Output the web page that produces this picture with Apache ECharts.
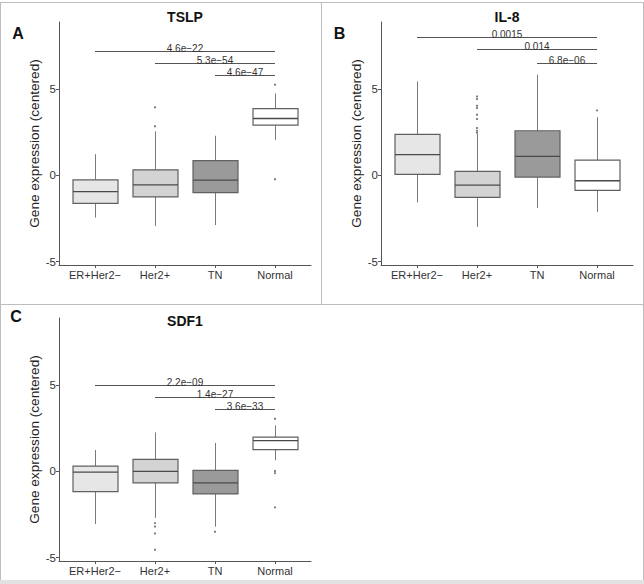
<!DOCTYPE html>
<html><head><meta charset="utf-8">
<script src="https://cdn.jsdelivr.net/npm/echarts@6/dist/echarts.min.js"></script>
<style>html,body{margin:0;padding:0;background:#fff}#c{width:644px;height:584px}</style>
</head><body><div id="c"></div>
<script>
// ---------- data ----------
const categories = ['ER+Her2\u2212', 'Her2+', 'TN', 'Normal'];
const yTicks = [-5, 0, 5];

// [min(whisker), q1, median, q3, max(whisker)] per category
const tslpStats = [
  [-2.45, -1.62, -0.94, -0.26, 1.23],
  [-2.94, -1.25, -0.55, 0.32, 2.55],
  [-2.88, -1.00, -0.28, 0.86, 2.30],
  [2.06, 2.92, 3.30, 3.87, 4.75]
];
const tslpOutliers = [[2, 3.95], [2, 2.85], [4, 5.26], [4, -0.22]];
const tslpPvalues = ['4.6e\u221222', '5.3e\u221254', '4.6e\u221247'];
const tslpBrackets = [[1, 4, 7.24], [2, 4, 6.54], [3, 4, 5.80]];

const il8Stats = [
  [-1.57, 0.06, 1.20, 2.38, 5.45],
  [-2.99, -1.28, -0.56, 0.23, 2.40],
  [-1.89, -0.10, 1.10, 2.59, 5.84],
  [-2.12, -0.87, -0.31, 0.89, 3.38]
];
const il8Outliers = [[2, 4.58], [2, 4.43], [2, 4.04], [2, 3.91], [2, 3.52], [2, 3.27], [2, 2.75], [2, 2.59], [2, 2.47], [4, 3.77]];
const il8Pvalues = ['0.0015', '0.014', '6.8e\u221206'];
const il8Brackets = [[1, 4, 8.02], [2, 4, 7.33], [3, 4, 6.53]];

const sdf1Stats = [
  [-3.05, -1.18, -0.04, 0.31, 1.24],
  [-2.70, -0.67, 0.00, 0.70, 2.26],
  [-3.21, -1.31, -0.67, 0.06, 1.65],
  [0.64, 1.26, 1.78, 1.99, 2.67]
];
const sdf1Outliers = [[2, -3.0], [2, -3.2], [2, -3.6], [2, -4.55], [3, -3.5], [4, 3.05], [4, 0.02], [4, -0.1], [4, -2.09]];
const sdf1Pvalues = ['2.2e\u221209', '1.4e\u221227', '3.6e\u221233'];
const sdf1Brackets = [[1, 4, 5.0], [2, 4, 4.3], [3, 4, 3.6]];

const panels = [
  { title: 'TSLP', letter: 'A', stats: tslpStats, outliers: tslpOutliers, brackets: tslpBrackets, pvalues: tslpPvalues },
  { title: 'IL-8', letter: 'B', stats: il8Stats, outliers: il8Outliers, brackets: il8Brackets, pvalues: il8Pvalues },
  { title: 'SDF1', letter: 'C', stats: sdf1Stats, outliers: sdf1Outliers, brackets: sdf1Brackets, pvalues: sdf1Pvalues }
];

// ---------- styling / layout ----------
const FONT = '"Liberation Sans", Arial, sans-serif';
const fills = ['#e6e6e6', '#d3d3d3', '#9a9a9a', '#ffffff'];
const grids = [
  { left: 59, top: 22, width: 252, height: 243 },
  { left: 381, top: 22, width: 252, height: 243 },
  { left: 59, top: 318, width: 252, height: 243 }
];
const titlePos = [[185, 17], [507, 17], [185, 321]];
const letterPos = [[18, 33], [339.5, 33], [16, 316]];

const chart = echarts.init(document.getElementById('c'), null, { renderer: 'svg' });

const xAxes = [], yAxes = [], series = [];
panels.forEach((p, i) => {
  xAxes.push({
    type: 'value', gridIndex: i, min: 0.4, max: 4.6,
    axisLine: { show: true, onZero: false, lineStyle: { color: '#555', width: 1 } },
    axisTick: { show: true, length: 3, customValues: [1, 2, 3, 4], lineStyle: { color: '#555' } },
    axisLabel: { customValues: [1, 2, 3, 4], formatter: v => categories[Math.round(v) - 1],
      fontSize: 11, color: '#333', margin: 4, fontFamily: FONT },
    splitLine: { show: false }
  });
  yAxes.push({
    type: 'value', gridIndex: i, min: -5.2, max: 8.9,
    name: 'Gene expression (centered)', nameLocation: 'middle', nameGap: 16, nameRotate: 90,
    nameTextStyle: { fontSize: 13.6, color: '#222', fontFamily: FONT },
    axisLine: { show: true, onZero: false, lineStyle: { color: '#555', width: 1 } },
    axisTick: { show: true, length: 3, customValues: yTicks, lineStyle: { color: '#555' } },
    axisLabel: { customValues: yTicks, fontSize: 11.5, color: '#333', margin: 3, fontFamily: FONT },
    splitLine: { show: false }
  });
  const boxData = p.stats.map((s, k) => [k + 1].concat(s));
  series.push({
    type: 'custom', xAxisIndex: i, yAxisIndex: i,
    data: boxData,
    encode: { x: 0, y: [1, 2, 3, 4, 5] },
    renderItem: (params, api) => {
      const x = api.value(0);
      const lo = api.coord([x, api.value(1)]);
      const q1 = api.coord([x, api.value(2)]);
      const md = api.coord([x, api.value(3)]);
      const q3 = api.coord([x, api.value(4)]);
      const hi = api.coord([x, api.value(5)]);
      const w = api.size([0.75, 0])[0];
      const cx = Math.round(lo[0]) + 0.5;
      const wl = { stroke: '#7a7a7a', lineWidth: 1 };
      return {
        type: 'group', children: [
          { type: 'line', shape: { x1: cx, y1: hi[1], x2: cx, y2: q3[1] }, style: wl },
          { type: 'line', shape: { x1: cx, y1: q1[1], x2: cx, y2: lo[1] }, style: wl },
          { type: 'rect', shape: { x: cx - w / 2, y: q3[1], width: w, height: q1[1] - q3[1] },
            style: { fill: fills[params.dataIndex], stroke: '#606060', lineWidth: 1.2 } },
          { type: 'line', shape: { x1: cx - w / 2, y1: md[1], x2: cx + w / 2, y2: md[1] },
            style: { stroke: '#4a4a4a', lineWidth: 1.3 } }
        ]
      };
    },
    z: 2
  });
  series.push({
    type: 'scatter', xAxisIndex: i, yAxisIndex: i, data: p.outliers,
    symbol: 'circle', symbolSize: 2.2, itemStyle: { color: '#555' }, silent: true, z: 3
  });
  series.push({
    type: 'custom', xAxisIndex: i, yAxisIndex: i,
    data: p.brackets,
    encode: { x: [0, 1], y: 2 },
    renderItem: (params, api) => {
      const a = api.coord([api.value(0), api.value(2)]);
      const b = api.coord([api.value(1), api.value(2)]);
      const y = Math.round(a[1]) + 0.5;
      return {
        type: 'group', children: [
          { type: 'line', shape: { x1: a[0], y1: y, x2: b[0], y2: y }, style: { stroke: '#555', lineWidth: 1 } },
          { type: 'text', x: (a[0] + b[0]) / 2, y: y + 1.5,
            style: { text: p.pvalues[params.dataIndex], align: 'center', verticalAlign: 'bottom',
              font: '10px ' + FONT, fill: '#333' } }
        ]
      };
    },
    z: 4
  });
});

const graphics = [];
// panel frame lines
const frameColor = '#bdbdbd';
[[0, 2.5, 644, 2.5], [0.5, 2, 0.5, 584], [643.5, 2, 643.5, 584], [321.5, 2, 321.5, 304], [0, 304.5, 644, 304.5]].forEach(l => {
  graphics.push({ type: 'line', shape: { x1: l[0], y1: l[1], x2: l[2], y2: l[3] }, style: { stroke: frameColor, lineWidth: 1 }, silent: true });
});
graphics.push({ type: 'rect', shape: { x: 0, y: 580, width: 644, height: 4 }, style: { fill: '#e2e2e2' }, silent: true });
panels.forEach((p, i) => {
  graphics.push({ type: 'text', x: titlePos[i][0], y: titlePos[i][1],
    style: { text: p.title, align: 'center', verticalAlign: 'middle', font: 'bold 14px ' + FONT, fill: '#111' } });
  graphics.push({ type: 'text', x: letterPos[i][0], y: letterPos[i][1],
    style: { text: p.letter, align: 'center', verticalAlign: 'middle', font: 'bold 16px ' + FONT, fill: '#111' } });
});

chart.setOption({
  animation: false,
  backgroundColor: '#fff',
  grid: grids,
  xAxis: xAxes,
  yAxis: yAxes,
  series: series,
  graphic: graphics
});
</script></body></html>
